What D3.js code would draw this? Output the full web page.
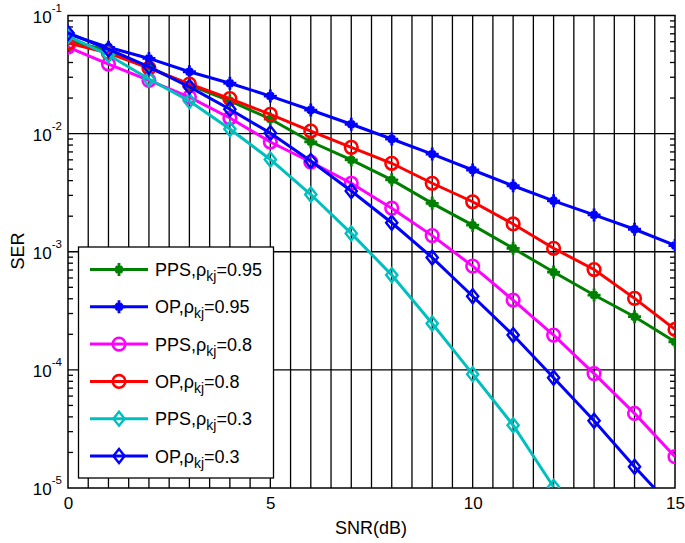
<!DOCTYPE html>
<html><head><meta charset="utf-8">
<script src="https://cdn.jsdelivr.net/npm/d3@7"></script>
<style>body{margin:0;background:#fff}svg{display:block;font-family:"Liberation Sans",Arial,sans-serif}</style>
</head><body><svg id="c" width="685" height="543"></svg>
<script>
const snr = [0,1,2,3,4,5,6,7,8,9,10,11,12,13,14,15];
const ppsHigh = [0.0620,0.0501,0.0366,0.0258,0.0189,0.0133,0.00853,0.00599,0.00406,0.00257,0.00168,0.00107,0.000673,0.000430,0.000282,0.000173];
const opHigh  = [0.0697,0.0538,0.0433,0.0334,0.0267,0.0208,0.01584,0.0120,0.0090,0.00671,0.00492,0.00362,0.00270,0.00205,0.00155,0.00113];
const ppsMid  = [0.0541,0.0388,0.0282,0.0204,0.01355,0.00849,0.00575,0.00380,0.00234,0.00137,0.000756,0.000390,0.000197,0.0000930,0.0000428,0.0000184];
const opMid   = [0.0585,0.0481,0.0359,0.0263,0.0198,0.01456,0.01051,0.00765,0.00561,0.00380,0.00265,0.00172,0.00107,0.000707,0.000403,0.000220];
const ppsLow  = [0.0670,0.0463,0.0290,0.0189,0.01094,0.00604,0.00305,0.00143,0.000635,0.000247,0.0000920,0.0000340,0.0000102];
const opLow   = [0.0711,0.0518,0.0368,0.0249,0.01607,0.01011,0.00586,0.00327,0.00176,0.000893,0.000420,0.000197,0.0000857,0.0000371,0.0000151,0.0000065];
const xTicks = [0,5,10,15];
const yTicks = [-1,-2,-3,-4,-5];

const series = [
  {scheme:"PPS", rho:"0.95", vals:ppsHigh, color:"#008000", marker:"star"},
  {scheme:"OP",  rho:"0.95", vals:opHigh,  color:"#0000ff", marker:"star"},
  {scheme:"PPS", rho:"0.8",  vals:ppsMid,  color:"#ff00ff", marker:"circle"},
  {scheme:"OP",  rho:"0.8",  vals:opMid,   color:"#ff0000", marker:"circle"},
  {scheme:"PPS", rho:"0.3",  vals:ppsLow,  color:"#00bfbf", marker:"diamond"},
  {scheme:"OP",  rho:"0.3",  vals:opLow,   color:"#0000ff", marker:"diamond"}
];

const svg = d3.select("#c");
const L=68, R=675, T=15.5, B=488;
const x = d3.scaleLinear().domain([0,15]).range([L,R]);
const y = d3.scaleLog().domain([1e-5,1e-1]).range([B,T]);

const grid = svg.append("g").attr("stroke","#000").attr("stroke-width",1.3);
d3.range(0.5,15,0.5).forEach(v=>{
  grid.append("line").attr("x1",x(v)).attr("x2",x(v)).attr("y1",T).attr("y2",B);
});
[1e-2,1e-3,1e-4].forEach(v=>{
  grid.append("line").attr("x1",L).attr("x2",R).attr("y1",y(v)).attr("y2",y(v));
});
const minor=[];
for(let e=-5;e<-1;e++) for(let m=2;m<=9;m++) minor.push(m*Math.pow(10,e));
minor.forEach(v=>{
  grid.append("line").attr("x1",L).attr("x2",L+5).attr("y1",y(v)).attr("y2",y(v));
  grid.append("line").attr("x1",R).attr("x2",R-5).attr("y1",y(v)).attr("y2",y(v));
});
svg.append("rect").attr("x",L).attr("y",T).attr("width",R-L).attr("height",B-T)
  .attr("fill","none").attr("stroke","#000").attr("stroke-width",1.5);

const xa = svg.append("g").attr("transform",`translate(0,${B})`)
  .call(d3.axisBottom(x).tickValues(xTicks).tickSize(0).tickPadding(9).tickFormat(d3.format("d")));
xa.select(".domain").remove();
xa.selectAll("text").attr("font-size",17).attr("font-family","Liberation Sans, Arial, sans-serif").attr("fill","#000");

const ya = svg.append("g");
yTicks.forEach(e=>{
  const t = ya.append("text").attr("x",62).attr("y",y(Math.pow(10,e))+7).attr("text-anchor","end")
    .attr("font-size",17).attr("fill","#000");
  t.append("tspan").text("10");
  t.append("tspan").attr("dy",-11).attr("font-size",11.5).text(String(e));
});

svg.append("text").attr("x",371).attr("y",534).attr("text-anchor","middle").attr("font-size",18).text("SNR(dB)");
svg.append("text").attr("transform","translate(24,251) rotate(-90)").attr("text-anchor","middle").attr("font-size",18).text("SER");

svg.append("clipPath").attr("id","clip").append("rect").attr("x",L).attr("y",T).attr("width",R-L).attr("height",B-T);
const plot = svg.append("g").attr("clip-path","url(#clip)");

function drawMarker(g, type, cx, cy, color){
  if(type==="circle"){
    g.append("circle").attr("cx",cx).attr("cy",cy).attr("r",6.3).attr("fill","none").attr("stroke",color).attr("stroke-width",2.6);
  } else if(type==="diamond"){
    const s=7;
    g.append("path").attr("d",`M${cx},${cy-s}L${cx+s*0.8},${cy}L${cx},${cy+s}L${cx-s*0.8},${cy}Z`)
      .attr("fill","none").attr("stroke",color).attr("stroke-width",2.4);
  } else {
    const s=6.5, d=3.2;
    g.append("path").attr("d",`M${cx-s},${cy}L${cx+s},${cy}M${cx},${cy-s}L${cx},${cy+s}M${cx-d},${cy-d}L${cx+d},${cy+d}M${cx-d},${cy+d}L${cx+d},${cy-d}`)
      .attr("stroke",color).attr("stroke-width",2.8);
    g.append("circle").attr("cx",cx).attr("cy",cy).attr("r",3.6).attr("fill",color);
  }
}

const line = d3.line().x(d=>x(d[0])).y(d=>y(d[1]));
series.forEach(s=>{
  const pts = s.vals.map((v,i)=>[snr[i],v]);
  plot.append("path").attr("d",line(pts)).attr("fill","none").attr("stroke",s.color).attr("stroke-width",3);
  const mg = plot.append("g");
  pts.forEach(p=>{ if(p[1]>=1e-5) drawMarker(mg,s.marker,x(p[0]),y(p[1]),s.color); });
});

const lg = svg.append("g");
lg.append("rect").attr("x",78.5).attr("y",247).attr("width",195).attr("height",231)
  .attr("fill","#fff").attr("stroke","#000").attr("stroke-width",1.3);
series.forEach((s,i)=>{
  const cy = 269.5 + i*37.3;
  lg.append("line").attr("x1",90).attr("x2",148).attr("y1",cy).attr("y2",cy).attr("stroke",s.color).attr("stroke-width",3);
  drawMarker(lg,s.marker,119,cy,s.color);
  const t = lg.append("text").attr("x",155).attr("y",cy+6.5).attr("font-size",18).attr("fill","#000");
  t.append("tspan").text(s.scheme+",ρ");
  t.append("tspan").attr("dy",5).attr("font-size",14).text("kj");
  t.append("tspan").attr("dy",-5).text("="+s.rho);
});
</script></body></html>
